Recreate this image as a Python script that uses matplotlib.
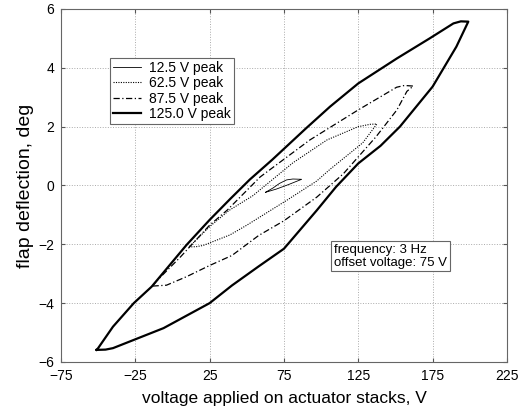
import numpy as np
import matplotlib
matplotlib.use("Agg")
import matplotlib.pyplot as plt

plt.rcParams.update({"font.family": ["Liberation Sans", "DejaVu Sans"]})

# 125.0 V peak loop (rising branch then falling branch)
v125_up_x = [-51, -45, -40, -26, -6, 25, 40, 58, 75, 97, 110, 125, 140, 153, 175, 191, 199]
v125_up_y = [-5.59, -5.58, -5.53, -5.25, -4.85, -4.0, -3.4, -2.75, -2.15, -0.85, -0.05, 0.75, 1.35, 2.0, 3.36, 4.72, 5.57]
v125_dn_x = [194, 189, 173, 151, 125, 106, 90, 67, 52, 39, 25, 9.5, -14, -26, -40, -50, -51]
v125_dn_y = [5.58, 5.51, 5.0, 4.32, 3.47, 2.68, 1.95, 0.87, 0.2, -0.45, -1.17, -2.02, -3.44, -4.0, -4.8, -5.53, -5.59]

# 87.5 V peak loop
v87_up_x = [-13.4, -4, 9.5, 25, 40, 58, 75, 97, 115, 137, 151, 157.7, 162]
v87_up_y = [-3.42, -3.39, -3.1, -2.72, -2.38, -1.7, -1.2, -0.4, 0.4, 1.66, 2.57, 3.2, 3.38]
v87_dn_x = [156, 150.8, 125, 92.5, 59, 37, 25, 5, -10.7, -13.4]
v87_dn_y = [3.4, 3.34, 2.57, 1.55, 0.29, -0.83, -1.35, -2.45, -3.25, -3.42]

# 62.5 V peak loop
v62_up_x = [11, 16, 20.6, 38.7, 50, 77, 97, 106, 128, 137.5]
v62_up_y = [-2.09, -2.08, -2.04, -1.68, -1.35, -0.5, 0.15, 0.55, 1.45, 2.09]
v62_dn_x = [133, 125, 104, 81, 54, 38, 25, 14, 11]
v62_dn_y = [2.08, 2.0, 1.55, 0.77, -0.35, -0.85, -1.4, -1.95, -2.09]

# 12.5 V peak loop
v12_up_x = [62.7, 70, 78, 86.9]
v12_up_y = [-0.23, -0.12, 0.03, 0.21]
v12_dn_x = [81, 76.8, 72, 67.8, 62.7]
v12_dn_y = [0.22, 0.19, 0.07, -0.08, -0.23]

x_ticks = [-75, -25, 25, 75, 125, 175, 225]
y_ticks = [-6, -4, -2, 0, 2, 4, 6]

fig = plt.figure(figsize=(5.21, 4.09), dpi=100)
ax = fig.add_axes([0.117, 0.115, 0.856, 0.863])

ax.plot(v12_up_x + v12_dn_x, v12_up_y + v12_dn_y, color="black", lw=0.6, label="12.5 V peak")
ax.plot(v62_up_x + v62_dn_x, v62_up_y + v62_dn_y, color="black", lw=0.8, ls=(0, (1, 1.2)), label="62.5 V peak")
ax.plot(v87_up_x + v87_dn_x, v87_up_y + v87_dn_y, color="black", lw=0.9, ls=(0, (5, 2, 1, 2)), label="87.5 V peak")
ax.plot(v125_up_x + v125_dn_x, v125_up_y + v125_dn_y, color="black", lw=1.6, label="125.0 V peak")

ax.set_xlim(-75, 225)
ax.set_ylim(-6, 6)
ax.set_xticks(x_ticks)
ax.set_yticks(y_ticks)
ax.grid(True, ls=":", color="#aaaaaa", lw=0.7)
ax.tick_params(direction="in", length=3, labelsize=10, pad=5, top=True, right=True, color="#555555")
for s in ax.spines.values():
    s.set_color("#666666")
    s.set_linewidth(0.8)

ax.set_xlabel("voltage applied on actuator stacks, V", fontsize=12.5, labelpad=6)
ax.set_ylabel("flap deflection, deg", fontsize=14, labelpad=3)

leg = ax.legend(loc="upper left", bbox_to_anchor=(0.11, 0.861), borderaxespad=0, fontsize=10,
                handlelength=2.0, labelspacing=0.1, fancybox=False, framealpha=1,
                edgecolor="#666666", borderpad=0.2, handletextpad=0.6)
leg.get_frame().set_linewidth(0.8)

ax.text(0.612, 0.335, "frequency: 3 Hz\noffset voltage: 75 V", transform=ax.transAxes,
        fontsize=9.5, va="top", ha="left", linespacing=1.1,
        bbox=dict(boxstyle="square,pad=0.2", fc="white", ec="#666666", lw=0.8))

fig.savefig("out.png", dpi=100)
